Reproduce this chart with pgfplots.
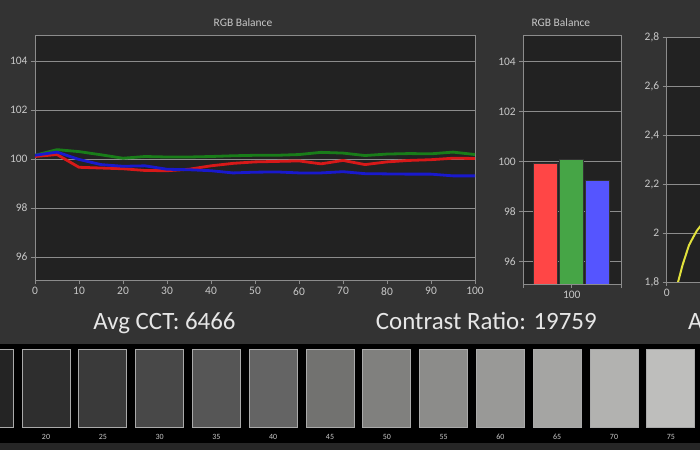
\documentclass[border=0pt]{standalone}
\usepackage{pgfplots}
\pgfplotsset{compat=1.18}
\usepackage{fontspec}
\setmainfont{Carlito}
\definecolor{bg}{RGB}{51,51,51}
\definecolor{plotbg}{RGB}{34,34,34}
\definecolor{axgray}{RGB}{140,140,140}
\definecolor{txtgray}{RGB}{200,200,200}
\definecolor{bigtxt}{RGB}{230,230,230}
\definecolor{linered}{RGB}{215,25,25}
\definecolor{linegreen}{RGB}{25,125,25}
\definecolor{lineblue}{RGB}{25,25,205}
\definecolor{barred}{RGB}{255,70,70}
\definecolor{bargreen}{RGB}{70,165,70}
\definecolor{barblue}{RGB}{85,85,255}
\definecolor{gammay}{RGB}{225,225,60}
\definecolor{patchedge}{RGB}{170,170,170}
\definecolor{stripbot}{RGB}{38,38,38}
\pgfplotsset{
  darkaxis/.style={
    scale only axis, anchor=south west,
    axis background/.style={fill=plotbg},
    axis line style={axgray, line width=0.8bp},
    tick style={axgray, line width=0.8bp},
    major tick length=4bp,
    tick align=outside,
    xtick pos=bottom, ytick pos=left,
    ymajorgrids, grid style={axgray, line width=0.8bp},
    ticklabel style={font=\fontsize{11.5}{13}\selectfont, text=txtgray},
    /pgf/number format/assume math mode=true,
    title style={font=\fontsize{11.5}{13}\selectfont, text=txtgray, anchor=base, yshift=3bp},
  }
}
\begin{document}
\begin{tikzpicture}[x=1bp,y=1bp]
\fill[bg] (0,0) rectangle (700,450);
\fill[black] (0,7) rectangle (700,106);
\fill[stripbot] (0,0) rectangle (700,7);
\begin{scope}
\clip (0,0) rectangle (700,450);

% main RGB balance lines
\begin{axis}[darkaxis, at={(35bp,170bp)}, width=440bp, height=245bp,
  xmin=0, xmax=100, ymin=95.06, ymax=105.06,
  xtick={0,10,...,100}, ytick={96,98,100,102,104},
  title={RGB Balance}, title style={at={(0.4727,1)}}]
\addplot[linegreen, line width=2.8bp, line join=round] table {
x y
0 100.15
5 100.38
10 100.30
15 100.17
20 100.03
25 100.10
30 100.08
35 100.08
40 100.10
45 100.13
50 100.15
55 100.15
60 100.18
65 100.27
70 100.24
75 100.14
80 100.20
85 100.22
90 100.21
95 100.28
100 100.18
};
\addplot[linered, line width=2.8bp, line join=round] table {
x y
0 100.10
5 100.18
10 99.66
15 99.63
20 99.60
25 99.53
30 99.52
35 99.58
40 99.72
45 99.82
50 99.88
55 99.90
60 99.92
65 99.80
70 99.94
75 99.77
80 99.88
85 99.94
90 99.97
95 100.03
100 100.02
};
\addplot[lineblue, line width=2.8bp, line join=round] table {
x y
0 100.15
5 100.28
10 99.98
15 99.77
20 99.70
25 99.72
30 99.58
35 99.56
40 99.52
45 99.43
50 99.46
55 99.47
60 99.43
65 99.43
70 99.48
75 99.40
80 99.39
85 99.38
90 99.38
95 99.31
100 99.31
};
\end{axis}

% bar chart
\begin{axis}[darkaxis, at={(523.3bp,166bp)}, width=98.4bp, height=249bp,
  xmin=0, xmax=98.4, ymin=95.1, ymax=105.07,
  xtick={48.4}, xticklabels={100},
  extra x ticks={0,98.4}, extra x tick labels={},
  extra x tick style={grid=none},
  ytick={96,98,100,102,104},
  title={RGB Balance}, title style={at={(0.381,1)}}]
\addplot[ybar, bar width=24, bar shift=0pt, fill=barred, draw=black!80, line width=0.6bp] coordinates {(21.7,99.94)};
\addplot[ybar, bar width=24, bar shift=0pt, fill=bargreen, draw=black!80, line width=0.6bp] coordinates {(48.2,100.11)};
\addplot[ybar, bar width=24, bar shift=0pt, fill=barblue, draw=black!80, line width=0.6bp] coordinates {(74.2,99.27)};
\end{axis}

% gamma chart (cut off at the right edge)
\begin{axis}[darkaxis, at={(666.7bp,168bp)}, width=227bp, height=244.7bp,
  xmin=0, xmax=100, ymin=1.8, ymax=2.8,
  xtick={0},
  ytick={1.8,2,2.2,2.4,2.6,2.8},
  yticklabels={{1,8},{2},{2,2},{2,4},{2,6},{2,8}}]
\addplot[gammay, line width=2bp, line join=round] table {
x y
5 1.80
7 1.87
9.8 1.95
11.5 1.98
13.3 2.01
15 2.03
20 2.08
30 2.14
};
\end{axis}

% grey patches
\begin{axis}[at={(0bp,22.3bp)}, anchor=south west, scale only axis,
  width=700bp, height=78.4bp, xmin=0, xmax=700, ymin=0, ymax=1,
  axis line style={draw=none}, major tick length=0pt,
  ytick=\empty, xtick pos=bottom,
  xtick={46,102.8,159.6,216.4,273.2,330,386.8,443.6,500.4,557.2,614,670.8},
  xticklabels={20,25,30,35,40,45,50,55,60,65,70,75},
  xticklabel style={font=\fontsize{8}{9}\selectfont, text=txtgray, yshift=-3.4bp},
  clip=false]
\addplot[ybar, bar width=48, bar shift=0pt, draw=patchedge, line width=0.8bp, fill={rgb,255:red,36;green,36;blue,36}] coordinates {(-10.8,1)};
\addplot[ybar, bar width=48, bar shift=0pt, draw=patchedge, line width=0.8bp, fill={rgb,255:red,46;green,46;blue,46}] coordinates {(46,1)};
\addplot[ybar, bar width=48, bar shift=0pt, draw=patchedge, line width=0.8bp, fill={rgb,255:red,58;green,58;blue,58}] coordinates {(102.8,1)};
\addplot[ybar, bar width=48, bar shift=0pt, draw=patchedge, line width=0.8bp, fill={rgb,255:red,72;green,72;blue,72}] coordinates {(159.6,1)};
\addplot[ybar, bar width=48, bar shift=0pt, draw=patchedge, line width=0.8bp, fill={rgb,255:red,86;green,86;blue,86}] coordinates {(216.4,1)};
\addplot[ybar, bar width=48, bar shift=0pt, draw=patchedge, line width=0.8bp, fill={rgb,255:red,100;green,100;blue,100}] coordinates {(273.2,1)};
\addplot[ybar, bar width=48, bar shift=0pt, draw=patchedge, line width=0.8bp, fill={rgb,255:red,114;green,114;blue,112}] coordinates {(330,1)};
\addplot[ybar, bar width=48, bar shift=0pt, draw=patchedge, line width=0.8bp, fill={rgb,255:red,128;green,128;blue,126}] coordinates {(386.8,1)};
\addplot[ybar, bar width=48, bar shift=0pt, draw=patchedge, line width=0.8bp, fill={rgb,255:red,140;green,140;blue,138}] coordinates {(443.6,1)};
\addplot[ybar, bar width=48, bar shift=0pt, draw=patchedge, line width=0.8bp, fill={rgb,255:red,153;green,153;blue,151}] coordinates {(500.4,1)};
\addplot[ybar, bar width=48, bar shift=0pt, draw=patchedge, line width=0.8bp, fill={rgb,255:red,165;green,165;blue,163}] coordinates {(557.2,1)};
\addplot[ybar, bar width=48, bar shift=0pt, draw=patchedge, line width=0.8bp, fill={rgb,255:red,178;green,178;blue,176}] coordinates {(614,1)};
\addplot[ybar, bar width=48, bar shift=0pt, draw=patchedge, line width=0.8bp, fill={rgb,255:red,190;green,190;blue,188}] coordinates {(670.8,1)};
\end{axis}
\end{scope}

% summary texts
\node[anchor=base, inner sep=0pt, font=\fontsize{25}{30}\selectfont, text=bigtxt] at (164.5,120.7) {Avg CCT: 6466};
\node[anchor=base, inner sep=0pt, font=\fontsize{25}{30}\selectfont, text=bigtxt] at (486.3,120.7) {Contrast Ratio: 19759};
\node[anchor=base west, inner sep=0pt, font=\fontsize{25}{30}\selectfont, text=bigtxt] at (688,120.7) {A};
\pgfresetboundingbox
\path[use as bounding box] (0,0) rectangle (700,450);
\end{tikzpicture}
\end{document}
